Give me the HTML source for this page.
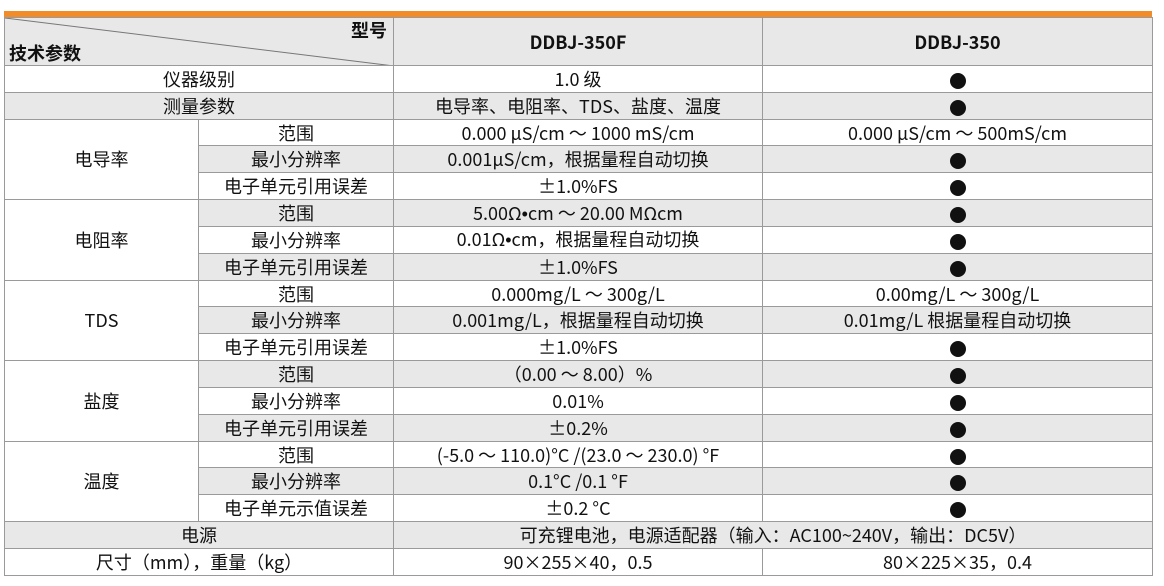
<!DOCTYPE html>
<html><head><meta charset="utf-8"><style>
body{margin:0;background:#fff;width:1164px;height:586px;overflow:hidden;position:relative;font-family:"Noto Sans CJK SC","Liberation Sans",sans-serif;color:#111}
.bar{position:absolute;left:4px;top:11px;width:1148px;height:6px;background:#f28c28}
table{position:absolute;left:4px;top:17px;border-collapse:collapse;table-layout:fixed;width:1148px;font-size:18px}
tr{height:26.84px}
td{border:1.5px solid #9a9a9a;text-align:center;padding:0;line-height:20px;white-space:nowrap;overflow:hidden}
tr.g td{background:#e8e8e8}
tr.g td.w{background:#fff}
td.w{background:#fff}
tr.h{height:48px}
.h td{background:#e8e8e8;font-weight:bold;font-size:18px}
.d::before{content:"";display:inline-block;width:16px;height:16px;border-radius:50%;background:#111;vertical-align:middle}
.b{font-family:"Liberation Sans",sans-serif}
</style></head><body>
<div class="bar"></div>
<table>
<colgroup><col style="width:194px"><col style="width:195px"><col style="width:369px"><col style="width:390px"></colgroup>
<tr class="h"><td colspan="2" style="position:relative;text-align:left">
<svg style="position:absolute;left:0;top:0" width="389" height="48"><line x1="0" y1="0" x2="389" y2="48" stroke="#777" stroke-width="1"/></svg>
<span style="position:absolute;right:6px;top:1px;line-height:22px">型号</span>
<span style="position:absolute;left:4px;bottom:1px;line-height:22px">技术参数</span></td>
<td>DDBJ-350F</td><td>DDBJ-350</td></tr>
<tr><td colspan="2">仪器级别</td><td>1.0 级</td><td class="d"></td></tr>
<tr class="g"><td colspan="2">测量参数</td><td>电导率、电阻率、TDS、盐度、温度</td><td class="d"></td></tr>
<tr><td rowspan="3" class="w">电导率</td><td>范围</td><td>0.000 µS/cm ～ 1000 mS/cm</td><td>0.000 µS/cm ～ 500mS/cm</td></tr>
<tr class="g"><td>最小分辨率</td><td>0.001µS/cm，根据量程自动切换</td><td class="d"></td></tr>
<tr><td>电子单元引用误差</td><td>±1.0%FS</td><td class="d"></td></tr>
<tr class="g"><td rowspan="3" class="w">电阻率</td><td>范围</td><td>5.00Ω<span class="b">•</span>cm ～ 20.00 MΩcm</td><td class="d"></td></tr>
<tr><td>最小分辨率</td><td>0.01Ω<span class="b">•</span>cm，根据量程自动切换</td><td class="d"></td></tr>
<tr class="g"><td>电子单元引用误差</td><td>±1.0%FS</td><td class="d"></td></tr>
<tr><td rowspan="3" class="w">TDS</td><td>范围</td><td>0.000mg/L ～ 300g/L</td><td>0.00mg/L ～ 300g/L</td></tr>
<tr class="g"><td>最小分辨率</td><td>0.001mg/L，根据量程自动切换</td><td>0.01mg/L 根据量程自动切换</td></tr>
<tr><td>电子单元引用误差</td><td>±1.0%FS</td><td class="d"></td></tr>
<tr class="g"><td rowspan="3" class="w">盐度</td><td>范围</td><td>（0.00 ～ 8.00）%</td><td class="d"></td></tr>
<tr><td>最小分辨率</td><td>0.01%</td><td class="d"></td></tr>
<tr class="g"><td>电子单元引用误差</td><td>±0.2%</td><td class="d"></td></tr>
<tr><td rowspan="3" class="w">温度</td><td>范围</td><td>(-5.0 ～ 110.0)°C /(23.0 ～ 230.0) °F</td><td class="d"></td></tr>
<tr class="g"><td>最小分辨率</td><td>0.1°C /0.1 °F</td><td class="d"></td></tr>
<tr><td>电子单元示值误差</td><td>±0.2 °C</td><td class="d"></td></tr>
<tr class="g"><td colspan="2">电源</td><td colspan="2">可充锂电池，电源适配器（输入：AC100~240V，输出：DC5V）</td></tr>
<tr><td colspan="2">尺寸（mm），重量（kg）</td><td>90×255×40，0.5</td><td>80×225×35，0.4</td></tr>
</table>
</body></html>
